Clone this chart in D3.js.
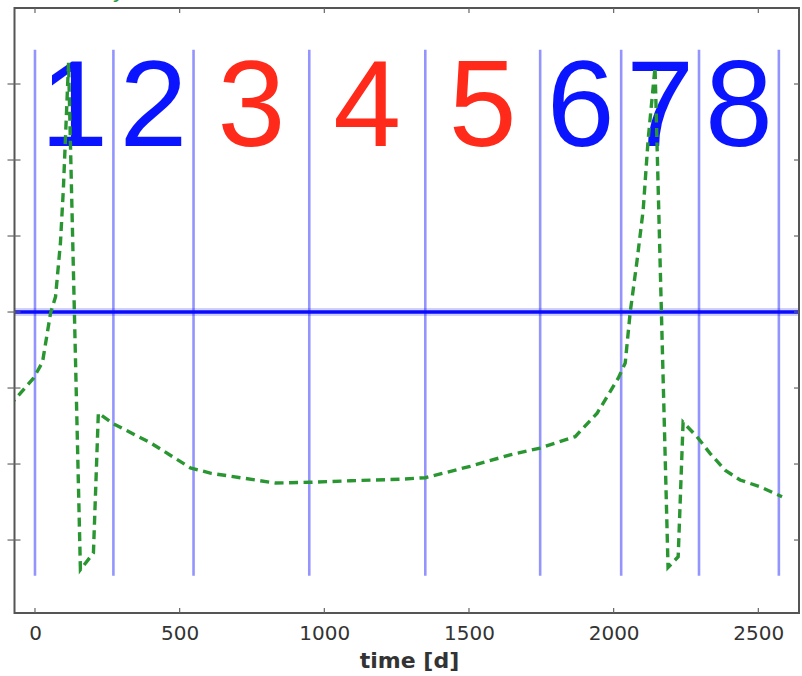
<!DOCTYPE html>
<html>
<head>
<meta charset="utf-8">
<script src="https://cdn.jsdelivr.net/npm/d3@7"></script>
<style>
  html, body { margin: 0; padding: 0; background: #fff; }
  svg { display: block; }
</style>
</head>
<body>
<svg id="chart" width="802" height="676"></svg>
<script>
// Phase boundaries (days) and the phase numbers written between them
const phaseBounds = [0, 271, 548, 948, 1349, 1746, 2026, 2295, 2571];
const phaseLabels = ["1", "2", "3", "4", "5", "6", "7", "8"];
const phaseKind = ["out", "out", "in", "in", "in", "out", "out", "out"];

// Dashed curve: time [d] and value
const curveTime = [-90, -5, 26, 54, 71, 88, 98, 105, 116, 157, 202, 219, 271, 399, 537, 606, 710, 831,
  952, 1090, 1262, 1349, 1401, 1504, 1642, 1746, 1867, 1943, 2016, 2040, 2057, 2081, 2102, 2119,
  2143, 2188, 2223, 2240, 2288, 2333, 2385, 2437, 2506, 2582];
const curveValue = [-1.24, -0.87, -0.66, -0.01, 0.20, 0.91, 1.61, 2.26, 3.28, -3.39, -3.17, -1.33, -1.47,
  -1.72, -2.05, -2.12, -2.18, -2.25, -2.24, -2.22, -2.20, -2.18, -2.13, -2.03, -1.88, -1.79, -1.64,
  -1.33, -0.87, -0.67, -0.01, 0.68, 1.34, 2.26, 3.22, -3.36, -3.22, -1.45, -1.64, -1.86, -2.08,
  -2.21, -2.30, -2.43];

const xTicks = [0, 500, 1000, 1500, 2000, 2500];
const yTicks = [-3, -2, -1, 0, 1, 2, 3];
const refLevel = 0;

const svg = d3.select("#chart");
const plotLeft = 14.5, plotRight = 799, plotTop = 8, plotBottom = 613;

const x = d3.scaleLinear().domain([-70.8, 2640.6]).range([plotLeft, plotRight]);
const y = d3.scaleLinear().domain([-3.96, 4.0]).range([plotBottom, plotTop]);

const kindColor = { out: "#0a14ff", in: "#ff2a1a" };

// Cut-off title fragment
svg.append("text")
  .attr("x", 112).attr("y", -2)
  .attr("font-family", "DejaVu Sans").attr("font-size", 22)
  .attr("fill", "#2e9a48").text("y");

svg.append("defs").append("clipPath").attr("id", "plotClip")
  .append("rect").attr("x", plotLeft).attr("y", plotTop)
  .attr("width", plotRight - plotLeft).attr("height", plotBottom - plotTop);

const plot = svg.append("g").attr("clip-path", "url(#plotClip)");

// Phase boundaries
plot.selectAll("line.phase").data(phaseBounds).join("line")
  .attr("class", "phase")
  .attr("x1", d => x(d)).attr("x2", d => x(d))
  .attr("y1", y(3.45)).attr("y2", y(-3.47))
  .attr("stroke", "#0000ff").attr("stroke-opacity", 0.42)
  .attr("stroke-width", 2.6);

// Reference level
plot.append("line")
  .attr("x1", plotLeft).attr("x2", plotRight)
  .attr("y1", y(refLevel)).attr("y2", y(refLevel))
  .attr("stroke", "#0000ff").attr("stroke-opacity", 0.18).attr("stroke-width", 8);
plot.append("line")
  .attr("x1", plotLeft).attr("x2", plotRight)
  .attr("y1", y(refLevel)).attr("y2", y(refLevel))
  .attr("stroke", "#0a0aff").attr("stroke-width", 3.6);

// Phase numbers
plot.selectAll("text.phase").data(phaseLabels).join("text")
  .attr("class", "phase")
  .attr("x", (d, i) => (x(phaseBounds[i]) + x(phaseBounds[i + 1])) / 2)
  .attr("y", y(2.18))
  .attr("text-anchor", "middle")
  .attr("font-family", "Liberation Sans, Arial, sans-serif")
  .attr("font-size", 122)
  .attr("fill", (d, i) => kindColor[phaseKind[i]])
  .text(d => d);

// Dashed curve
const pts = curveTime.map((t, i) => [t, curveValue[i]]);
plot.append("path")
  .datum(pts)
  .attr("d", d3.line().x(d => x(d[0])).y(d => y(d[1])))
  .attr("fill", "none")
  .attr("stroke", "#2a9632")
  .attr("stroke-width", 3.4)
  .attr("stroke-dasharray", "9,5.5");

// Frame
svg.append("rect")
  .attr("x", plotLeft).attr("y", plotTop)
  .attr("width", plotRight - plotLeft).attr("height", plotBottom - plotTop)
  .attr("fill", "none").attr("stroke", "#555").attr("stroke-width", 2);

// Ticks
const tickColor = "#666";
const g = svg.append("g");
xTicks.forEach(t => {
  g.append("line").attr("x1", x(t)).attr("x2", x(t)).attr("y1", plotBottom).attr("y2", plotBottom - 5)
    .attr("stroke", tickColor).attr("stroke-width", 1.2);
  g.append("line").attr("x1", x(t)).attr("x2", x(t)).attr("y1", plotTop).attr("y2", plotTop + 5)
    .attr("stroke", tickColor).attr("stroke-width", 1.2);
});
yTicks.forEach(t => {
  g.append("line").attr("x1", plotLeft - 7).attr("x2", plotLeft + 6).attr("y1", y(t)).attr("y2", y(t))
    .attr("stroke", tickColor).attr("stroke-width", 1.2);
  g.append("line").attr("x1", plotRight).attr("x2", plotRight - 5).attr("y1", y(t)).attr("y2", y(t))
    .attr("stroke", tickColor).attr("stroke-width", 1.2);
});

// Bottom axis labels
const xAxis = d3.axisBottom(x).tickValues(xTicks).tickSize(0).tickPadding(0).tickFormat(d3.format("d"));
const ax = svg.append("g").attr("transform", `translate(0,${plotBottom})`).call(xAxis);
ax.select(".domain").remove();
ax.selectAll("text")
  .attr("y", 27).attr("dy", null)
  .attr("font-family", "DejaVu Sans").attr("font-size", 20)
  .attr("fill", "#333");

svg.append("text")
  .attr("x", 409.5).attr("y", 668)
  .attr("text-anchor", "middle")
  .attr("font-family", "DejaVu Sans").attr("font-weight", "bold").attr("font-size", 22)
  .attr("fill", "#333")
  .text("time [d]");
</script>
</body>
</html>
